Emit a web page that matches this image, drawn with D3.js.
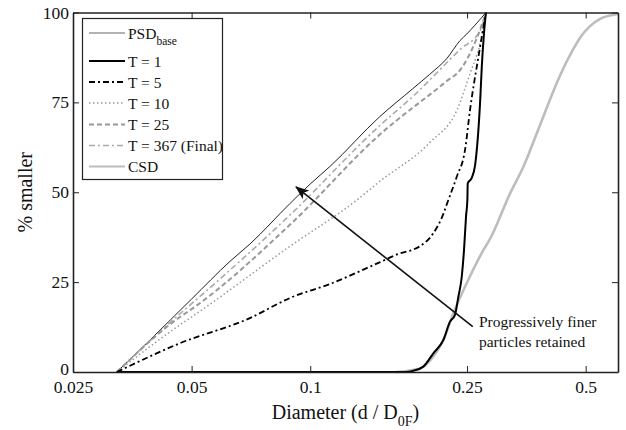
<!DOCTYPE html>
<html>
<head>
<meta charset="utf-8">
<script src="https://cdn.jsdelivr.net/npm/d3@7"></script>
</head>
<body style="margin:0">
<svg id="s" width="626" height="430"></svg>
<script>
// Cumulative size distributions: diameter (d / D0F) vs. % smaller
const xTicks = [0.025, 0.05, 0.1, 0.25, 0.5];
const xTickLabels = ["0.025", "0.05", "0.1", "0.25", "0.5"];
const yTicks = [0, 25, 50, 75, 100];

const psdBase = [[0.0323,0],[0.0392,8.9],[0.05,20.3],[0.0626,30.8],[0.0703,35.6],[0.0889,46.9],[0.1,52.3],[0.1123,57.2],[0.15,71.0],[0.182,78.8],[0.201,82.8],[0.2225,87.3],[0.24,92.2],[0.2495,94.0],[0.262,96.5],[0.2793,100]];
const t1 = [[0.0323,0],[0.175,0],[0.182,0.3],[0.1936,1.5],[0.2053,5.2],[0.2177,8.9],[0.2263,14.0],[0.233,15.9],[0.2376,20.9],[0.2424,26.5],[0.2456,33.9],[0.2485,43.2],[0.2505,48.0],[0.2510,52.5],[0.257,54.0],[0.262,57.5],[0.270,75.7],[0.2725,84.9],[0.276,94.2],[0.2793,100]];
const t5 = [[0.0323,0],[0.0467,8.0],[0.0703,15.0],[0.0889,20.6],[0.1123,24.5],[0.15,30.5],[0.169,33.0],[0.182,34.0],[0.19,35.0],[0.2053,38.6],[0.2177,44.0],[0.2225,46.9],[0.2354,54.3],[0.2471,61.8],[0.2544,72.9],[0.2675,88.0],[0.2793,100]];
const t10 = [[0.0323,0],[0.0467,13.1],[0.05,15.3],[0.0889,35.0],[0.1312,47.8],[0.15,53.0],[0.201,63.8],[0.236,73.0],[0.2544,83.0],[0.270,91.6],[0.2793,100]];
const t25 = [[0.0323,0],[0.0467,15.3],[0.05,17.5],[0.0889,41.0],[0.15,66.0],[0.2225,81.0],[0.24,84.0],[0.265,93.0],[0.2793,100]];
const t367 = [[0.0323,0],[0.0467,16.2],[0.05,19.0],[0.0889,43.7],[0.15,68.5],[0.182,76.6],[0.24,89.7],[0.270,95.0],[0.2793,100]];
const csd = [[0.165,0],[0.19,1.0],[0.2053,4.3],[0.2177,8.9],[0.2307,16.3],[0.2495,24.7],[0.275,33.9],[0.286,37.0],[0.3215,49.7],[0.3475,57.1],[0.3765,66.6],[0.422,80.3],[0.4305,82.5],[0.465,89.8],[0.484,93.0],[0.513,96.2],[0.544,98.2],[0.604,99.6]];

const seriesNames = ["PSD", "T = 1", "T = 5", "T = 10", "T = 25", "T = 367 (Final)", "CSD"];

// Arrow and note, in data coordinates
const arrowFrom = [0.2585, 12.6];
const arrowTo = [0.092, 51.5];
const noteAt = [0.268, 12.4];
const noteLines = ["Progressively finer", "particles retained"];

const FONT = "Liberation Serif";
const svg = d3.select("#s");
const mLeft = 73, mRight = 618, mTop = 12.5, mBottom = 372;

const x = d3.scaleLog().domain([0.025, 0.604]).range([mLeft, mRight]);
const y = d3.scaleLinear().domain([0, 100]).range([mBottom, mTop]);

const styles = [
  { data: psdBase, stroke: "#222", width: 1.0, dash: null },
  { data: t1, stroke: "#000", width: 2.0, dash: null },
  { data: t5, stroke: "#000", width: 1.8, dash: "6,3,2,3" },
  { data: t10, stroke: "#999", width: 1.5, dash: "1.5,2.5" },
  { data: t25, stroke: "#999", width: 2.0, dash: "5,3" },
  { data: t367, stroke: "#aaa", width: 1.6, dash: "6,3,2,3" },
  { data: csd, stroke: "#bdbdbd", width: 2.6, dash: null }
];

const line = d3.line().curve(d3.curveMonotoneX).x(d => x(d[0])).y(d => y(d[1]));

// Curves: draw CSD first so the others sit on top
const plot = svg.append("g");
[6, 0, 5, 4, 3, 2, 1].forEach(i => {
  const s = styles[i];
  plot.append("path")
    .datum(s.data)
    .attr("d", line)
    .attr("fill", "none")
    .attr("stroke", s.stroke)
    .attr("stroke-width", s.width)
    .attr("stroke-dasharray", s.dash)
    .attr("stroke-linejoin", "round");
});

// Axes with inward ticks on all four sides
const axisColor = "#222";
const xAxis = svg.append("g").attr("transform", `translate(0,${mBottom})`)
  .call(d3.axisBottom(x).tickValues(xTicks).tickFormat((d, i) => xTickLabels[i]).tickSizeInner(-6).tickSizeOuter(0).tickPadding(9));
const xTop = svg.append("g").attr("transform", `translate(0,${mTop})`)
  .call(d3.axisTop(x).tickValues(xTicks).tickFormat("").tickSizeInner(-6).tickSizeOuter(0));
const yAxis = svg.append("g").attr("transform", `translate(${mLeft},0)`)
  .call(d3.axisLeft(y).tickValues(yTicks).tickFormat(d3.format("d")).tickSizeInner(-6).tickSizeOuter(0).tickPadding(4));
const yRight = svg.append("g").attr("transform", `translate(${mRight},0)`)
  .call(d3.axisRight(y).tickValues(yTicks).tickFormat("").tickSizeInner(-6).tickSizeOuter(0));

[xAxis, xTop, yAxis, yRight].forEach(g => {
  g.attr("font-family", FONT).attr("font-size", 17.5);
  g.select(".domain").attr("stroke", axisColor).attr("stroke-width", 1.6);
  g.selectAll(".tick line").attr("stroke", axisColor).attr("stroke-width", 1);
  g.selectAll(".tick text").attr("fill", "#111");
});
// lift the "0" label slightly so it clears "0.025"
yAxis.selectAll(".tick text").filter(d => d === 0).attr("dy", "0.15em");

// Axis titles
const xTitle = svg.append("text")
  .attr("x", (mLeft + mRight) / 2).attr("y", 419)
  .attr("text-anchor", "middle")
  .attr("font-family", FONT).attr("font-size", 20).attr("fill", "#111");
xTitle.append("tspan").text("Diameter (d / D");
xTitle.append("tspan").attr("dy", 7).attr("font-size", 14).text("0F");
xTitle.append("tspan").attr("dy", -7).text(")");

svg.append("text")
  .attr("transform", `translate(32,${(mTop + mBottom) / 2}) rotate(-90)`)
  .attr("text-anchor", "middle")
  .attr("font-family", FONT).attr("font-size", 20).attr("fill", "#111")
  .text("% smaller");

// Arrow
const defs = svg.append("defs");
defs.append("marker")
  .attr("id", "head").attr("viewBox", "0 0 14 11")
  .attr("refX", 13).attr("refY", 5.5)
  .attr("markerWidth", 14).attr("markerHeight", 11)
  .attr("markerUnits", "userSpaceOnUse")
  .attr("orient", "auto")
  .append("path").attr("d", "M0,0 L14,5.5 L0,11 L3.5,5.5 Z").attr("fill", "#111");

svg.append("line")
  .attr("x1", x(arrowFrom[0])).attr("y1", y(arrowFrom[1]))
  .attr("x2", x(arrowTo[0])).attr("y2", y(arrowTo[1]))
  .attr("stroke", "#111").attr("stroke-width", 1.6)
  .attr("marker-end", "url(#head)");

noteLines.forEach((t, i) => {
  svg.append("text")
    .attr("x", x(noteAt[0])).attr("y", y(noteAt[1]) + i * 20)
    .attr("font-family", FONT).attr("font-size", 15.5).attr("fill", "#111")
    .text(t);
});

// Legend
const lg = svg.append("g");
lg.append("rect")
  .attr("x", 82.5).attr("y", 18.5).attr("width", 140).attr("height", 161)
  .attr("fill", "#fff").attr("stroke", "#222").attr("stroke-width", 1.2);

const rowY = [33, 61, 82, 103, 124.5, 145.5, 166.5];
styles.forEach((s, i) => {
  lg.append("line")
    .attr("x1", 89).attr("x2", 125).attr("y1", rowY[i]).attr("y2", rowY[i])
    .attr("stroke", i === 0 ? "#666" : s.stroke)
    .attr("stroke-width", Math.min(s.width, 2))
    .attr("stroke-dasharray", s.dash);
  const t = lg.append("text")
    .attr("x", 128).attr("y", rowY[i] + 5.5)
    .attr("font-family", FONT).attr("font-size", 15.5).attr("fill", "#111");
  t.append("tspan").text(seriesNames[i]);
  if (i === 0) {
    t.append("tspan").attr("dy", 6).attr("font-size", 11.5).text("base");
  }
});
</script>
</body>
</html>
